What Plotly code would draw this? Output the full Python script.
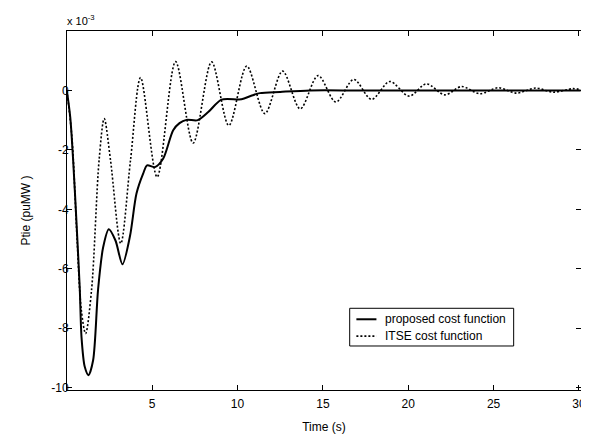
import plotly.graph_objects as go

# Time (s) and tie-line power deviation (x 10^-3 pu MW)
t_proposed = [0, 0.2, 0.37, 0.58, 0.76, 0.86, 1.05, 1.27, 1.54, 1.83, 2.13, 2.46, 2.85, 3.26,
              3.7, 4.08, 4.47, 4.70, 5.16, 5.64, 6.23, 6.6, 7.01, 7.67, 8.3, 9.06, 10.23,
              10.8, 11.31, 12.5, 14.24, 17, 20, 25, 30.1]
v_proposed = [0, -0.9, -2.35, -4.6, -6.7, -8.3, -9.3, -9.58, -9.08, -6.7, -5.27, -4.67, -5.05, -5.85,
              -4.9, -3.47, -2.8, -2.52, -2.58, -2.3, -1.34, -1.1, -0.99, -1.0, -0.72, -0.31, -0.30,
              -0.18, -0.09, -0.05, 0, 0, 0, 0, 0]

t_itse = [0, 0.3, 0.6, 0.85, 1.10, 1.45, 1.89, 2.19, 2.56, 3.16, 3.73, 4.32, 5.29, 6.37, 7.40,
          8.48, 9.49, 10.54, 11.60, 12.64, 13.67, 14.72, 15.76, 16.81, 17.85, 18.92, 20.05,
          21.07, 22.14, 23.12, 24.19, 25.27, 26.34, 27.47, 28.49, 29.64, 30.1]
v_itse = [0, -1.6, -5.0, -7.4, -8.18, -6.7, -2.35, -0.95, -2.35, -5.15, -2.35, 0.43, -2.91, 0.97, -1.77,
          0.96, -1.18, 0.82, -0.78, 0.65, -0.62, 0.50, -0.39, 0.37, -0.30, 0.30, -0.19,
          0.22, -0.15, 0.13, -0.11, 0.09, -0.09, 0.08, -0.06, 0.06, 0.03]

x_ticks = [5, 10, 15, 20, 25, 30]
y_ticks = [0, -2, -4, -6, -8, -10]
series_names = ["proposed cost function", "ITSE cost function"]

FONT = "Liberation Sans, Arial, sans-serif"
SOLID = dict(color="black", width=2)
DOTTED = dict(color="black", width=1.6, dash="2px,2px")

fig = go.Figure()
fig.add_trace(go.Scatter(x=t_proposed, y=v_proposed, mode="lines", name=series_names[0],
                         line=dict(**SOLID, shape="spline", smoothing=0.8), showlegend=False))
fig.add_trace(go.Scatter(x=t_itse, y=v_itse, mode="lines", name=series_names[1],
                         line=dict(**DOTTED, shape="spline", smoothing=0.9), showlegend=False))

axis_common = dict(showline=True, linecolor="black", linewidth=1, mirror="allticks",
                   ticks="inside", ticklen=5, tickwidth=1, tickcolor="black",
                   showgrid=False, zeroline=False, automargin=False,
                   tickfont=dict(family=FONT, size=12, color="black"))

fig.update_xaxes(range=[0.01, 30.12], tickvals=x_ticks, ticktext=[str(v) for v in x_ticks],
                 ticklabeloverflow="allow", ticklabelstandoff=3,
                 title=dict(text="Time (s)", font=dict(family=FONT, size=12, color="black"), standoff=12),
                 **axis_common)
fig.update_yaxes(range=[-10.08, 2.0], tickvals=y_ticks, ticktext=[str(v) for v in y_ticks],
                 ticklabelstandoff=-5,
                 title=dict(text="Ptie (puMW )", font=dict(family=FONT, size=12, color="black"), standoff=18),
                 **axis_common)

fig.add_annotation(xref="paper", yref="paper", x=0, y=1.0, xanchor="left", yanchor="bottom",
                   yshift=2, xshift=-2, showarrow=False, text="x 10<sup>-3</sup>",
                   font=dict(family=FONT, size=11, color="black"))

# legend box (drawn in paper coordinates)
LX0, LX1, LY0, LY1 = 0.550, 0.869, 0.1226, 0.2276
fig.add_shape(type="rect", xref="paper", yref="paper", x0=LX0, x1=LX1, y0=LY0, y1=LY1,
              line=dict(color="black", width=1), fillcolor="white", layer="above")
for i, (name, style) in enumerate(zip(series_names, [SOLID, DOTTED])):
    yy = 0.197 - i * 0.047
    fig.add_shape(type="line", xref="paper", yref="paper", x0=0.563, x1=0.602, y0=yy, y1=yy,
                  line=style, layer="above")
    fig.add_annotation(xref="paper", yref="paper", x=0.614, y=yy, xanchor="left", yanchor="middle",
                       showarrow=False, text=name, font=dict(family=FONT, size=12, color="black"))

fig.update_layout(
    width=581, height=427,
    margin=dict(l=59, r=7.5, t=23, b=45),
    paper_bgcolor="white", plot_bgcolor="white",
    showlegend=False,
)

fig.write_html("out.html")
